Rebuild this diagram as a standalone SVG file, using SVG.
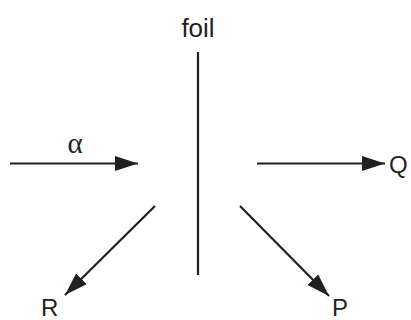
<svg xmlns="http://www.w3.org/2000/svg" width="411" height="320" viewBox="0 0 411 320">
<style>
.ln{stroke:#231f20;stroke-width:2.2;fill:none}
.t{font-family:"Liberation Sans",Arial,sans-serif;font-size:24px;fill:#231f20}
.g{font-family:"Liberation Serif","Times New Roman",serif;font-size:29px;fill:#231f20}
</style>
<defs>
<marker id="ah" viewBox="0 0 23 15" refX="23" refY="7.5" markerWidth="23" markerHeight="15" markerUnits="userSpaceOnUse" orient="auto">
<path d="M0,0 L23,7.5 L0,15 Z" fill="#231f20"/>
</marker>
</defs>
<g id="foil">
<line class="ln" x1="198" y1="52" x2="198" y2="275"/>
<text class="t" x="198" y="37" text-anchor="middle" style="font-size:26px">foil</text>
</g>
<g id="alpha"><text class="g" x="75" y="153" text-anchor="middle">α</text></g>
<g id="Q"><text class="t" x="389" y="173">Q</text></g>
<g id="R"><text class="t" x="41" y="316">R</text></g>
<g id="P"><text class="t" x="332" y="316">P</text></g>
<g id="connectors">
<line class="ln" x1="10" y1="163.5" x2="138" y2="163.5" marker-end="url(#ah)"/>
<line class="ln" x1="257" y1="163.5" x2="385" y2="163.5" marker-end="url(#ah)"/>
<line class="ln" x1="155" y1="206" x2="65" y2="295" marker-end="url(#ah)"/>
<line class="ln" x1="240" y1="206" x2="329" y2="296" marker-end="url(#ah)"/>
</g>
</svg>
